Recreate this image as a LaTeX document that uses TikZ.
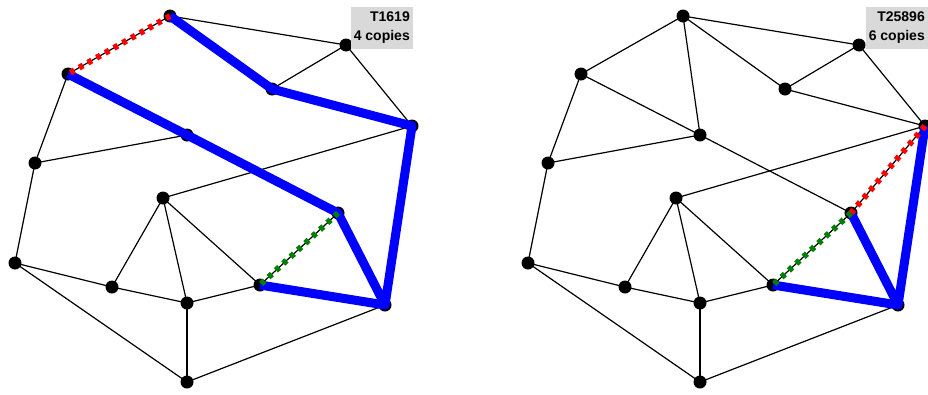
\documentclass[tikz,border=0pt]{standalone}
\usepackage{fontspec}
\setmainfont{Liberation Sans}
\usetikzlibrary{calc}

\definecolor{tagfill}{RGB}{217,217,217}
\definecolor{pathblue}{RGB}{0,0,255}
\definecolor{swapgreen}{RGB}{0,128,0}

\tikzset{
    edge/.style={black, line width=1.2pt},
    hot/.style={pathblue, line width=9pt, line join=round},
    swap/.style={line width=6pt, dash pattern=on 4.5pt off 5.5pt},
    tag/.style={fill=tagfill, align=right, inner xsep=3pt, inner ysep=5pt,
        font=\bfseries\fontsize{14}{19}\selectfont}
}

\begin{document}
\begin{tikzpicture}[x=1pt, y=-1pt]

    \useasboundingbox (0,0) rectangle (928,394);

    % 1. Vertex positions, left copy at offset 0, right copy shifted
    \foreach \p/\dx in {l/0, r/513} {
        \foreach \n/\x/\y in {A/170/16, B/346/45, C/68/74, D/272/89, E/412/126,
                F/187/135, G/35/163, H/163/198, I/338/213, J/15/263,
                K/112/287, L/260/285, M/187/303, N/385/305, O/187/382}
            \coordinate (\p\n) at (\x+\dx,\y);
    }

    % 2. Thin edges shared by both graphs
    \foreach \p in {l, r} {
        \foreach \a/\b in {A/B, A/C, A/D, B/D, B/E, D/E, C/G, C/F, F/I, F/G,
                E/H, E/N, I/N, I/L, L/N, H/L, H/K, H/M, J/K, K/M, M/L,
                M/O, J/O, O/N, G/J}
            \draw[edge] (\p\a) -- (\p\b);
    }

    % edges only in the right graph
    \draw[edge] (rA) -- (rF);
    \draw[edge] (rE) -- (rI);

    % 3. Vertices
    \foreach \p in {l, r} {
        \foreach \n in {A, B, C, D, E, F, G, H, I, J, K, L, M, N, O}
            \fill (\p\n) circle (6.5pt);
    }

    % 4. Highlighted paths, left graph
    \draw[hot] (lA) -- (lD) -- (lE) -- (lN) -- (lI) -- (lF) -- (lC);
    \draw[hot] (lL) -- (lN);
    \draw[swap, red] (lA) -- (lC);
    \draw[swap, swapgreen] (lI) -- (lL);

    % highlighted paths, right graph
    \draw[hot] (rE) -- (rN) -- (rI);
    \draw[hot] (rL) -- (rN);
    \draw[swap, red] (rE) -- (rI);
    \draw[swap, swapgreen] (rI) -- (rL);

    % 5. Labels
    \node[tag, anchor=north east] (lTag) at (413,7) {T1619\\4 copies};
    \node[tag, anchor=north east] (rTag) at (928,7) {T25896\\6 copies};

\end{tikzpicture}
\end{document}
